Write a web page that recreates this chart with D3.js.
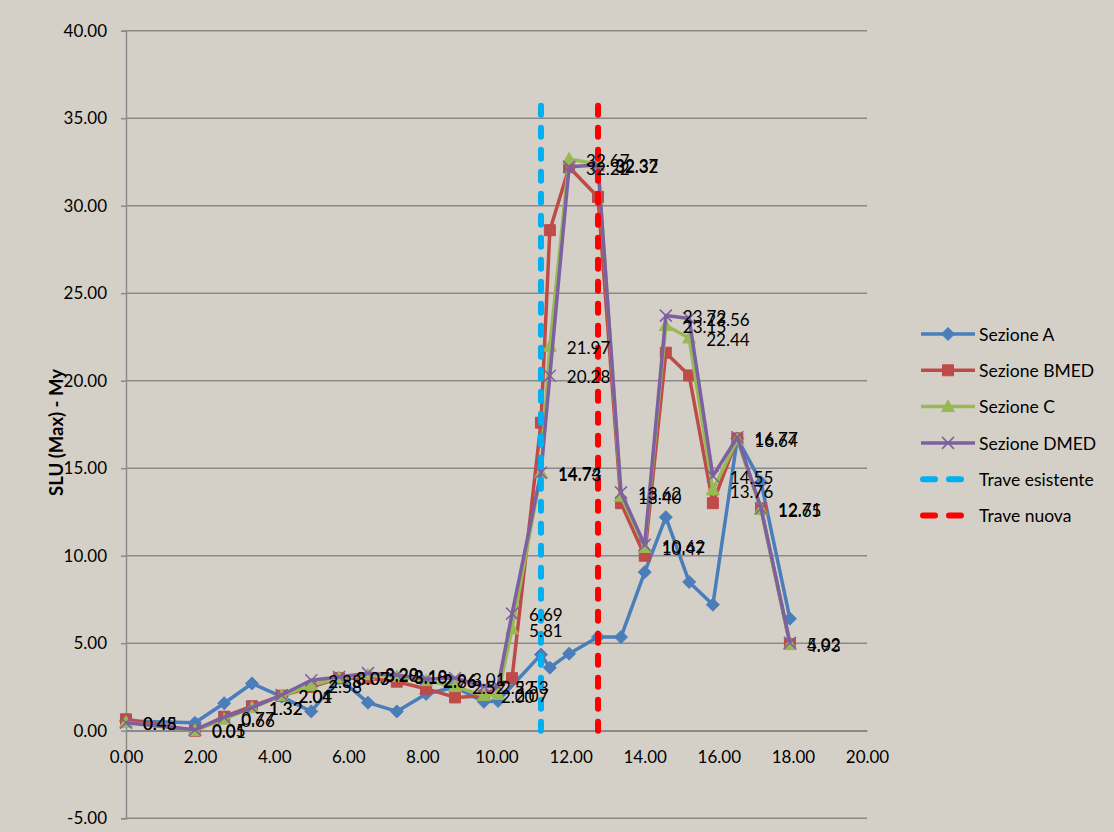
<!DOCTYPE html>
<html>
<head>
<meta charset="utf-8">
<script src="https://cdn.jsdelivr.net/npm/d3@7"></script>
<style>
  body { margin: 0; background: #d4d0c8; }
  svg text { font-family: Lato, "Open Sans", sans-serif; fill: #000; }
</style>
</head>
<body>
<svg id="chart" width="1114" height="832"></svg>
<script>
// Station positions along the beam (m)
const positions = [0, 1.86, 2.65, 3.4, 4.2, 5.0, 5.75, 6.53, 7.31, 8.1, 8.88, 9.66, 10.04, 10.42,
                   11.2, 11.44, 11.96, 12.74, 13.36, 14.0, 14.57, 15.2, 15.84, 16.5, 17.14, 17.92];

// SLU (Max) - My for each section (null = no value at that station)
const sezioneA    = [0.55, 0.45, 1.57, 2.7, 1.95, 1.1, 3.0, 1.6, 1.1, 2.1, 2.5, 1.65, 1.7, null,
                     4.35, 3.6, 4.4, 5.35, 5.35, 9.06, 12.2, 8.5, 7.2, 16.7, 14.2, 6.4];
const sezioneBMED = [0.65, 0.0, 0.8, 1.4, 2.0, 2.5, 3.0, 3.0, 2.8, 2.4, 1.9, 2.0, null, 3.0,
                     17.6, 28.6, 32.2, 30.5, 13.0, 10.0, 21.6, 20.3, 13.0, 16.7, 12.7, 4.95];
const sezioneC    = [0.48, 0.01, 0.66, 1.32, 2.01, 2.58, 3.03, 3.20, 3.10, 2.86, 2.52, 2.00, 2.07, 5.81,
                     14.73, 21.97, 32.67, 32.37, 13.40, 10.47, 23.15, 22.44, 13.76, 16.64, 12.65, 4.93];
const sezioneDMED = [0.45, 0.05, 0.77, 1.32, 2.04, 2.88, 3.07, 3.29, 3.18, 2.96, 3.01, 2.52, 2.53, 6.69,
                     14.74, 20.28, 32.22, 32.32, 13.62, 10.62, 23.72, 23.56, 14.55, 16.77, 12.71, 5.02];

// Reference beams (vertical markers)
const traveEsistente = [[11.2, 0], [11.2, 36]];
const traveNuova     = [[12.74, 0], [12.74, 36]];

const xTicks = [0, 2, 4, 6, 8, 10, 12, 14, 16, 18, 20];
const yTicks = [-5, 0, 5, 10, 15, 20, 25, 30, 35, 40];

const series = [
  { name: "Sezione A",    values: sezioneA,    color: "#4a7ebb", marker: "diamond",  labels: false },
  { name: "Sezione BMED", values: sezioneBMED, color: "#be4b48", marker: "square",   labels: false },
  { name: "Sezione C",    values: sezioneC,    color: "#98b954", marker: "triangle", labels: true },
  { name: "Sezione DMED", values: sezioneDMED, color: "#7d60a0", marker: "cross",    labels: true }
];
const beams = [
  { name: "Trave esistente", data: traveEsistente, color: "#00b0f0" },
  { name: "Trave nuova",     data: traveNuova,     color: "#ff0000" }
];

const svg = d3.select("#chart");
const x = d3.scaleLinear().domain([0, 20]).range([126, 867]);
const y = d3.scaleLinear().domain([-5, 40]).range([818.2, 30.7]);
const fmt = d => d.toFixed(2);

// Horizontal gridlines
svg.append("g").selectAll("line").data(yTicks).join("line")
  .attr("x1", x(0)).attr("x2", x(20))
  .attr("y1", d => y(d)).attr("y2", d => y(d))
  .attr("stroke", "#8a8a8a").attr("stroke-width", 1.5);

// Value axis
const yAxis = svg.append("g").attr("transform", `translate(${x(0)},0)`)
  .call(d3.axisLeft(y).tickValues(yTicks).tickFormat(fmt).tickSize(5).tickPadding(14));
yAxis.select(".domain").attr("stroke", "#8a8a8a").attr("stroke-width", 1.5);
yAxis.selectAll(".tick line").attr("stroke", "#8a8a8a").attr("stroke-width", 1.5);
yAxis.selectAll(".tick text").attr("font-size", 17).attr("font-family", "Lato");

// Category axis crossing at zero
const xAxis = svg.append("g").attr("transform", `translate(0,${y(0)})`)
  .call(d3.axisBottom(x).tickValues(xTicks).tickFormat(fmt).tickSize(0).tickPadding(20));
xAxis.select(".domain").attr("stroke", "#8a8a8a").attr("stroke-width", 1.5);
xAxis.selectAll(".tick text").attr("font-size", 17).attr("font-family", "Lato");

svg.append("text")
  .attr("transform", `translate(63,${(y(40) + y(-5)) / 2 + 8}) rotate(-90)`)
  .attr("text-anchor", "middle")
  .attr("font-size", 18.5).attr("font-weight", "bold")
  .text("SLU (Max) - My");

// Marker shapes
function markerPath(type) {
  switch (type) {
    case "diamond":  return "M0,-6.5L6.5,0L0,6.5L-6.5,0Z";
    case "square":   return "M-5.5,-5.5H5.5V5.5H-5.5Z";
    case "triangle": return "M0,-6.5L6.5,5L-6.5,5Z";
    case "cross":    return "M-6,-6L6,6M6,-6L-6,6";
  }
}
function drawMarker(g, type, color) {
  const p = g.append("path").attr("d", markerPath(type));
  if (type === "cross") p.attr("fill", "none").attr("stroke", color).attr("stroke-width", 1.5);
  else p.attr("fill", color).attr("stroke", color).attr("stroke-width", 1);
}

const line = d3.line().x(d => x(d[0])).y(d => y(d[1]));

series.forEach(s => {
  const pts = positions.map((p, i) => [p, s.values[i]]).filter(d => d[1] !== null);
  svg.append("path").datum(pts)
    .attr("d", line).attr("fill", "none")
    .attr("stroke", s.color).attr("stroke-width", 3.5).attr("stroke-linejoin", "round");
  pts.forEach(d => {
    const g = svg.append("g").attr("transform", `translate(${x(d[0])},${y(d[1])})`);
    drawMarker(g, s.marker, s.color);
  });
});

// Beam markers
beams.forEach(b => {
  svg.append("path").datum(b.data)
    .attr("d", line)
    .attr("fill", "none").attr("stroke", b.color)
    .attr("stroke-width", 6).attr("stroke-linecap", "round")
    .attr("stroke-dasharray", "9 13");
});

// Data labels
series.filter(s => s.labels).forEach(s => {
  positions.forEach((p, i) => {
    const v = s.values[i];
    if (v === null) return;
    svg.append("text")
      .attr("x", x(p) + 17).attr("y", y(v))
      .attr("dy", "0.45em")
      .attr("font-size", 17)
      .text(fmt(v));
  });
});

// Legend
const legendItems = series.map(s => ({ name: s.name, color: s.color, marker: s.marker }))
  .concat(beams.map(b => ({ name: b.name, color: b.color, dashed: true })));
legendItems.forEach((d, i) => {
  const ly = 334 + i * 36.3;
  if (d.dashed) {
    svg.append("line").attr("x1", 923).attr("x2", 962).attr("y1", ly).attr("y2", ly)
      .attr("stroke", d.color).attr("stroke-width", 6).attr("stroke-linecap", "round")
      .attr("stroke-dasharray", "12 14");
  } else {
    svg.append("line").attr("x1", 921).attr("x2", 975).attr("y1", ly).attr("y2", ly)
      .attr("stroke", d.color).attr("stroke-width", 3.5);
    drawMarker(svg.append("g").attr("transform", `translate(948,${ly})`), d.marker, d.color);
  }
  svg.append("text").attr("x", 979).attr("y", ly).attr("dy", "0.38em")
    .attr("font-size", 17.5).text(d.name);
});
</script>
</body>
</html>
